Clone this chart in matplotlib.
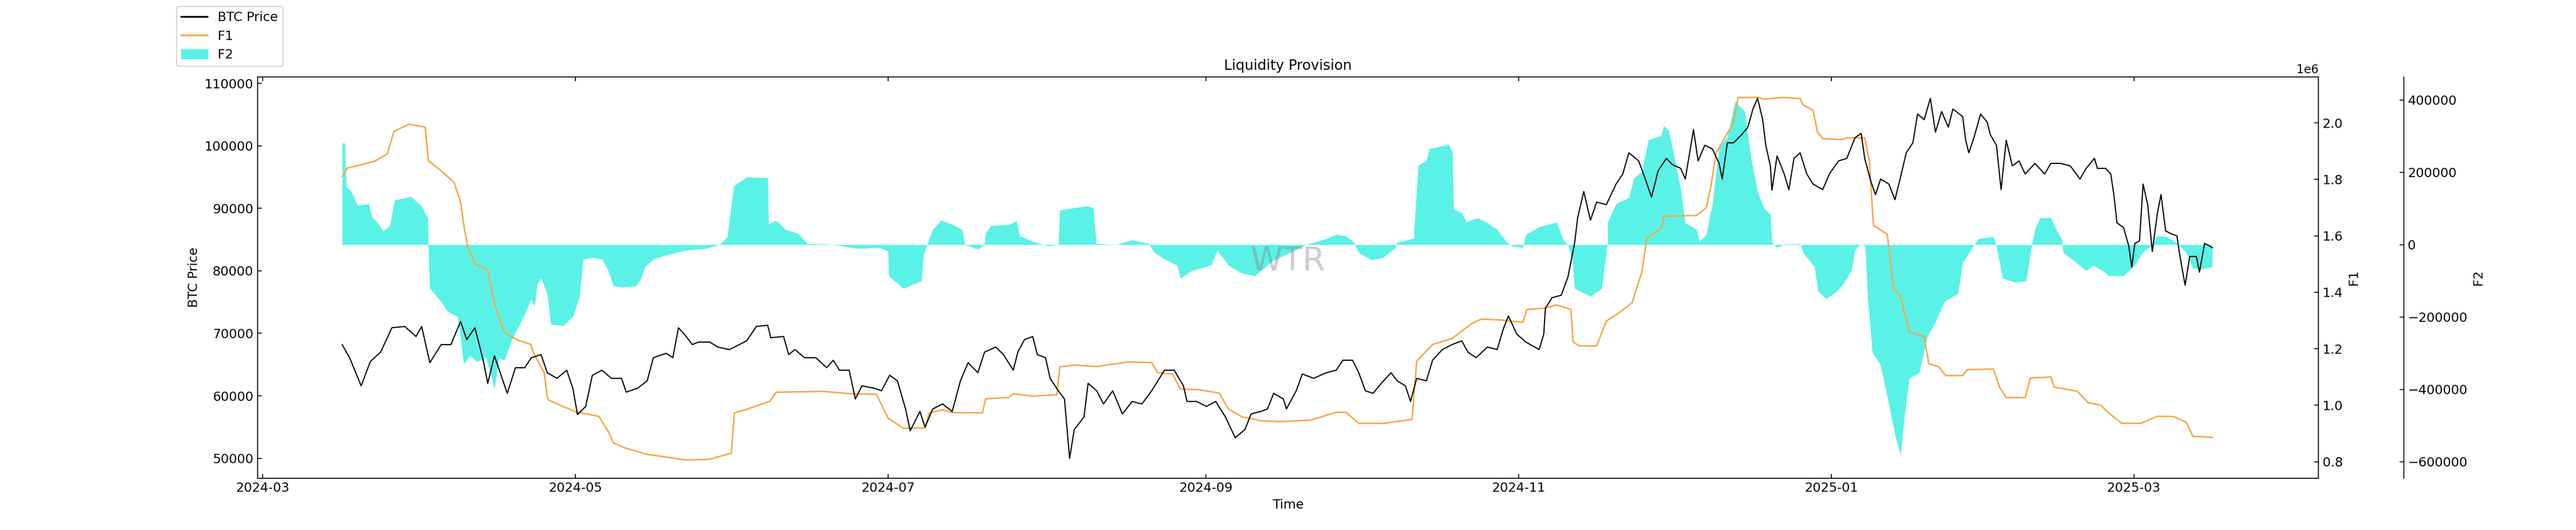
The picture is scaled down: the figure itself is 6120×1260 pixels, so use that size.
import numpy as np
import pandas as pd
import matplotlib
matplotlib.use("Agg")
import matplotlib.pyplot as plt
import matplotlib.dates as mdates
from matplotlib.patches import Patch
from matplotlib.lines import Line2D

base_date = "2024-03-01"

# (day offset from base_date, BTC price in thousands)
btc_points = [
(15.5,68.2),(17,66.0),(19.2,61.6),(21,65.5),(23,67.0),(25.2,70.9),(27.7,71.1),(29.9,69.5),(31,71.1),(32.6,65.3),
(34.8,68.2),(36.7,68.2),(38.6,71.9),(39.8,69.0),(41.4,70.9),(43,65.7),(43.9,62.0),(45.2,66.4),(47.7,60.4),(49.3,64.5),
(51.1,64.5),(52.4,66.1),(54.3,66.6),(55.5,63.7),(57.4,62.8),(59.3,64.1),(60.5,61.2),(61.4,57.0),(63,58.3),(64.3,63.3),
(66.2,64.1),(68,62.8),(70,62.8),(70.9,60.6),(73.1,61.2),(75,62.4),(76.2,66.1),(78.7,66.8),(80,66.1),(81.1,70.9),
(82.6,69.5),(83.8,68.2),(85,68.6),(87.2,68.6),(88.8,67.8),(91,67.4),(92,67.8),(94.4,68.8),(96.3,71.1),(98.5,71.3),
(99.1,69.3),(101.6,69.5),(102.6,66.6),(103.8,67.4),(105.7,66.1),(107.9,66.1),(110,64.5),(111.3,65.7),(112.5,64.1),(114.4,64.1),
(115.6,59.5),(116.9,61.6),(119.4,61.2),(120.7,60.8),(122.3,63.3),(123.8,62.4),(125.4,57.9),(126.3,54.4),(128.2,57.5),(129.2,55.0),
(130.7,57.9),(132.6,58.7),(134.5,57.5),(136.1,62.4),(137.6,65.3),(139.5,63.7),(140.8,67.0),(143,67.8),(144.5,66.6),(146.4,64.1),
(147.3,67.0),(148.6,69.0),(150.2,69.5),(151.1,66.6),(152.7,66.1),(153.6,62.8),(155.2,60.8),(156.4,59.5),(157.4,50.0),(158.3,54.6),
(160.2,56.6),(161,62.0),(162.7,60.8),(164,58.7),(165.8,60.8),(167.7,57.1),(169.6,59.1),(171.5,58.7),(173.4,60.8),(175.9,64.1),
(177.8,64.1),(179.6,61.6),(180.3,59.1),(182.2,59.1),(184.1,58.3),(185.9,59.1),(187.8,56.6),(189.7,53.3),(191.6,54.6),(192.8,57.1),
(194.7,57.5),(196,57.9),(197.2,60.4),(199.1,59.5),(199.7,57.9),(201.6,60.8),(202.8,63.5),(205,62.8),(207.5,63.7),(209.4,64.1),
(210.7,65.7),(212.6,65.7),(213.8,63.7),(215.1,60.8),(216.6,60.4),(218.2,62.0),(220.1,63.7),(221.3,62.4),(222.9,61.6),(223.9,59.1),
(225.1,62.8),(227,62.4),(228.2,65.7),(230.1,67.4),(232,68.2),(233.9,68.8),(235.1,67.0),(236.7,66.1),(238.9,67.8),(240.8,67.4),
(242,70.7),(243,72.8),(244.6,69.9),(246.4,68.6),(249,67.4),(249.9,69.9),(250.2,74.0),(251.5,75.7),(253.3,76.1),(254.6,79.0),
(255.9,84.4),(256.5,88.5),(257.7,92.7),(259,88.1),(260.2,91.0),(262.1,90.6),(264,93.9),(265.3,95.5),(266.5,98.9),(268.4,97.6),
(269.7,94.7),(270.9,91.8),(272.2,96.0),(273.8,98.0),(275,97.0),(276.6,96.4),(277.5,94.7),(279.1,102.6),(280,97.6),(281.3,100.1),
(282.8,99.5),(284.1,97.2),(284.7,94.7),(285.7,100.5),(286.9,100.5),(288.5,101.8),(289.7,103.0),(290.7,105.9),(291.6,107.6),(292.6,104.2),
(293.2,100.1),(294.1,96.8),(294.4,92.9),(295.4,98.4),(296.8,95.5),(297.7,93.0),(298.7,98.0),(299.9,98.9),(301.2,95.5),(302.4,93.9),
(304.3,93.0),(305.6,95.5),(307.4,97.6),(309,98.0),(310.6,101.3),(311.8,102.0),(312.5,98.0),(313.7,94.3),(314.6,92.2),(315.6,94.7),
(317.2,93.9),(318.4,91.4),(319.4,94.7),(320.6,98.9),(321.9,100.5),(322.8,105.1),(324.1,104.2),(325.3,107.6),(326.3,102.2),(327.5,105.5),
(328.8,103.0),(329.7,105.9),(331.6,104.7),(332.2,100.9),(332.8,98.9),(333.8,101.3),(335.1,105.1),(336.4,103.8),(337,101.8),(338.2,100.1),
(339.1,93.0),(340.1,100.9),(341.3,96.8),(342.6,97.6),(343.8,95.5),(345.7,97.2),(347.6,95.5),(348.8,97.2),(350.7,97.2),(352.6,96.8),
(354.5,94.7),(355.7,96.4),(357.3,98.0),(357.9,96.4),(359.5,96.4),(360.5,95.5),(361.1,92.2),(361.7,87.7),(363,86.9),(364,84.0),
(364.6,80.6),(365.2,84.4),(366.1,84.8),(366.8,93.9),(367.7,90.6),(368.6,83.1),(369.6,89.3),(370.3,92.2),(371.2,86.4),(372.1,86.0),
(373.4,85.6),(374,82.3),(375,77.7),(375.9,82.3),(377.2,82.3),(377.8,79.8),(378.8,84.4),(379.7,84.0),(380.3,83.7)]

# (day offset, F1 in millions)
f1_points = [
(15.5,1.81),(16.5,1.84),(20.4,1.857),(22,1.866),(24.3,1.89),(25.6,1.97),(28.5,1.995),(31.7,1.985),(32.3,1.866),(34.8,1.83),
(37.3,1.79),(38.6,1.72),(39.2,1.64),(40,1.56),(41.4,1.50),(43.9,1.48),(45.2,1.36),(47,1.26),(49.8,1.23),(52.3,1.215),
(52.7,1.19),(54.9,1.115),(55.6,1.02),(58.6,0.995),(61.1,0.977),(65.6,0.96),(67.5,0.904),(68.4,0.867),(70.6,0.849),(75,0.826),
(82.6,0.806),(87,0.808),(91.4,0.83),(92,0.973),(94.5,0.986),(98.9,1.014),(100.2,1.046),(109.4,1.049),(115,1.04),(119.7,1.039),
(122,0.954),(125,0.918),(129.2,0.92),(130,0.973),(132.6,0.984),(134.5,0.974),(140.4,0.973),(141,1.023),(145.5,1.027),(146.4,1.041),
(150.2,1.032),(154.9,1.037),(155.5,1.136),(158.3,1.142),(162.7,1.137),(168.7,1.153),(173.4,1.151),(174.6,1.115),(177.5,1.11),(179,1.057),
(182.5,1.055),(186.6,1.043),(188.4,0.986),(191,0.959),(194.7,0.945),(198.5,0.942),(204.4,0.947),(209.4,0.975),(211.3,0.975),(213.8,0.936),
(218.8,0.936),(224.2,0.95),(225.1,1.156),(228.2,1.215),(232,1.236),(235.8,1.289),(237.7,1.305),(241.4,1.302),(245.8,1.293),(246.6,1.339),
(250.2,1.344),(252.4,1.355),(255.2,1.339),(255.6,1.225),(256.8,1.21),(260.2,1.21),(262.1,1.298),(264,1.32),(267.1,1.362),(269,1.47),
(270,1.59),(272.8,1.628),(273.4,1.669),(279.7,1.672),(281.6,1.70),(282.5,1.775),(283.5,1.894),(285.3,1.95),(286.9,2.0),(287.8,2.09),
(291.6,2.09),(292.9,2.084),(296.6,2.09),(299.9,2.086),(300.5,2.063),(302.4,2.045),(303.3,1.967),(304.3,1.944),(308.1,1.941),(309,1.947),
(312.5,1.947),(313.4,1.866),(314.2,1.637),(316.9,1.605),(318.2,1.408),(319.4,1.39),(321.2,1.261),(324.1,1.243),(325,1.147),(326.9,1.137),
(328.3,1.105),(331.6,1.105),(332.5,1.126),(337.6,1.128),(338.8,1.064),(340.1,1.027),(343.8,1.027),(344.8,1.096),(348.8,1.10),(349.5,1.064),
(353.9,1.05),(356.1,1.009),(358.6,1.0),(359.5,0.982),(362.6,0.936),(366.4,0.936),(369.6,0.961),(372.7,0.96),(375.2,0.94),(376.5,0.89),
(379.6,0.887),(380.3,0.885)]

# (day offset, F2 in thousands)
f2_points = [
(15.5,281),(16.0,281),(16.3,162),(17.2,148),(18.5,109),(20.7,113),(21.3,77),(22.6,57),(23.5,38),(24.8,52),(25.7,123),(28.9,133),
(31,106),(32.2,74),(32.4,-54),(32.6,-121),(34.8,-157),(36.1,-185),(38,-199),(38.6,-256),(39.2,-330),(40.5,-306),(41.7,-323),(43.6,-313),
(45.2,-398),(46.1,-313),(47.1,-320),(48.6,-263),(51.1,-192),(52.4,-150),(53,-171),(53.6,-107),(54.3,-93),(55.5,-135),(56.2,-220),(58.6,-224),
(60.5,-199),(61.8,-143),(62.5,-40),(64.3,-36),(66.2,-40),(67.4,-72),(68.4,-114),(70,-118),(72.8,-114),(73.7,-96),(74.6,-61),(76.2,-40),
(78.7,-29),(82.6,-15),(86.3,-11),(89.1,0),(90.6,21),(91.9,162),(94.4,187),(98.5,185),(98.7,56),(100.1,67),(102,42),(104.4,31),
(106.3,3),(110.6,1),(113.2,-4),(116,-11),(120.1,-8),(122,-18),(122.1,-86),(125,-121),(128.5,-100),(128.9,-29),(129.6,0),(130.7,42),
(132.3,67),(134.5,56),(136.4,42),(137,0),(139.5,-13),(140.8,0),(141,31),(142,52),(145.8,56),(147,67),(147.7,24),(150.8,6),
(153.3,-4),(155.2,0),(155.5,95),(158.3,102),(160.8,107),(162,102),(162.6,3),(166.5,0),(169.6,13),(172.8,3),(174,-22),(175.9,-40),
(178.4,-57),(179,-93),(181.2,-72),(183.1,-65),(185,-57),(186.2,-15),(188.4,-57),(191,-79),(193.5,-86),(194.7,-72),(197.2,-43),(201,-18),
(203.5,0),(205,6),(207.5,17),(209.4,28),(211.3,24),(212.9,6),(213.8,-22),(216.3,-42),(218.5,-36),(220.1,-18),(221,-8),(221.3,6),
(224.5,17),(225.4,219),(227,233),(227.6,265),(231.4,277),(232.1,255),(232.3,99),(233.9,88),(234.8,63),(237,74),(238.9,60),(240.8,42),
(242.7,6),(243.9,-4),(245.8,-8),(246.4,28),(249,49),(252.4,62),(253.7,13),(254.6,0),(255.5,-43),(255.9,-121),(259,-143),(261.2,-121),
(262.3,0),(262.4,63),(264,113),(266.5,130),(267.5,184),(269,201),(270.3,290),(272.8,301),(273.3,329),(274.3,315),(275.3,248),(276.6,155),
(277.5,60),(279.7,42),(280.3,8),(281.6,28),(282.8,113),(284.1,269),(285.7,297),(287.2,396),(289.1,368),(290.4,233),(291.6,148),(292.9,99),
(294.1,84),(294.4,6),(295.4,-8),(297,2),(300,2),(300.5,-22),(302.7,-61),(303.4,-128),(305,-150),(307.1,-128),(308.4,-107),(309.9,-72),
(310.6,-15),(311.8,3),(312.6,-4),(313.1,-150),(314,-298),(315.6,-333),(317.2,-440),(318.4,-525),(319.5,-582),(320.3,-469),(321.2,-369),(323.1,-355),
(324.7,-256),(326.3,-213),(328.1,-157),(330.7,-135),(331.6,-50),(333.2,-15),(334.7,17),(337.6,22),(338.2,-4),(339.4,-93),(341.9,-104),(344,-100),
(345.1,0),(345.7,42),(346.7,74),(348.8,75),(350.1,35),(351,13),(351.2,-22),(353.2,-43),(355.7,-72),(357,-57),(358.9,-72),(360.1,-86),
(363,-86),(365.2,-57),(366.7,-22),(368.6,0),(369.6,24),(371.4,22),(373.3,6),(375.2,-22),(376.5,-65),(378.3,-68),(380.3,-61)]


def to_series(points, scale):
    d = np.array([p[0] for p in points])
    v = np.array([p[1] for p in points]) * scale
    t = pd.Timestamp(base_date) + pd.to_timedelta(d, unit="D")
    return t, v

bt, bv = to_series(btc_points, 1000)
ft, fv = to_series(f1_points, 1e6)
gt, gv = to_series(f2_points, 1000)

plt.rcParams['font.family'] = ['DejaVu Sans']
plt.rcParams['xtick.direction'] = 'in'
plt.rcParams['ytick.direction'] = 'in'

fig = plt.figure(figsize=(30.6, 6.3), dpi=200)
ax = fig.add_axes([0.1, 0.098, 0.8, 0.757])
ax2 = ax.twinx()
ax3 = ax.twinx()
ax3.spines['right'].set_position(('outward', 73))
for s in ['top', 'left', 'bottom']:
    ax3.spines[s].set_visible(False)

cyan = '#5AF2E6'
orange = '#F5A84A'

ax3.fill_between(gt, gv, 0, color=cyan, linewidth=0)
ax2.plot(ft, fv, color=orange, lw=1.3)
ax.plot(bt, bv, color='black', lw=1.0)

ax3.set_zorder(0)
ax2.set_zorder(1)
ax.set_zorder(2)
ax.patch.set_visible(False)
ax2.patch.set_visible(False)

ax.set_xlim(pd.Timestamp('2024-02-29'), pd.Timestamp('2025-04-06'))
ax.set_ylim(46840, 111050)
ax2.set_ylim(0.742e6, 2.163e6)
ax3.set_ylim(-645000, 464000)

ax.xaxis.set_major_locator(mdates.MonthLocator(bymonth=[1, 3, 5, 7, 9, 11]))
ax.xaxis.set_major_formatter(mdates.DateFormatter('%Y-%m'))
ax.tick_params(axis='x', top=True, labelsize=11)
ax.tick_params(axis='y', labelsize=11)
ax2.tick_params(labelsize=11)
ax3.tick_params(labelsize=11)

ax.set_title('Liquidity Provision', fontsize=12)
ax.set_xlabel('Time', fontsize=11)
ax.set_ylabel('BTC Price', fontsize=11)
ax2.set_ylabel('F1', fontsize=11)
ax3.set_ylabel('F2', fontsize=11)

ax.text(0.5, 0.54, 'WTR', transform=ax.transAxes, fontsize=28, color='gray',
        alpha=0.4, ha='center', va='center')

handles = [Line2D([], [], color='black', lw=1.5), Line2D([], [], color=orange, lw=1.5),
           Patch(color=cyan)]
fig.legend(handles, ['BTC Price', 'F1', 'F2'], loc='upper left',
           bbox_to_anchor=(0.066, 1.0), fontsize=11)

fig.savefig('out.png')
